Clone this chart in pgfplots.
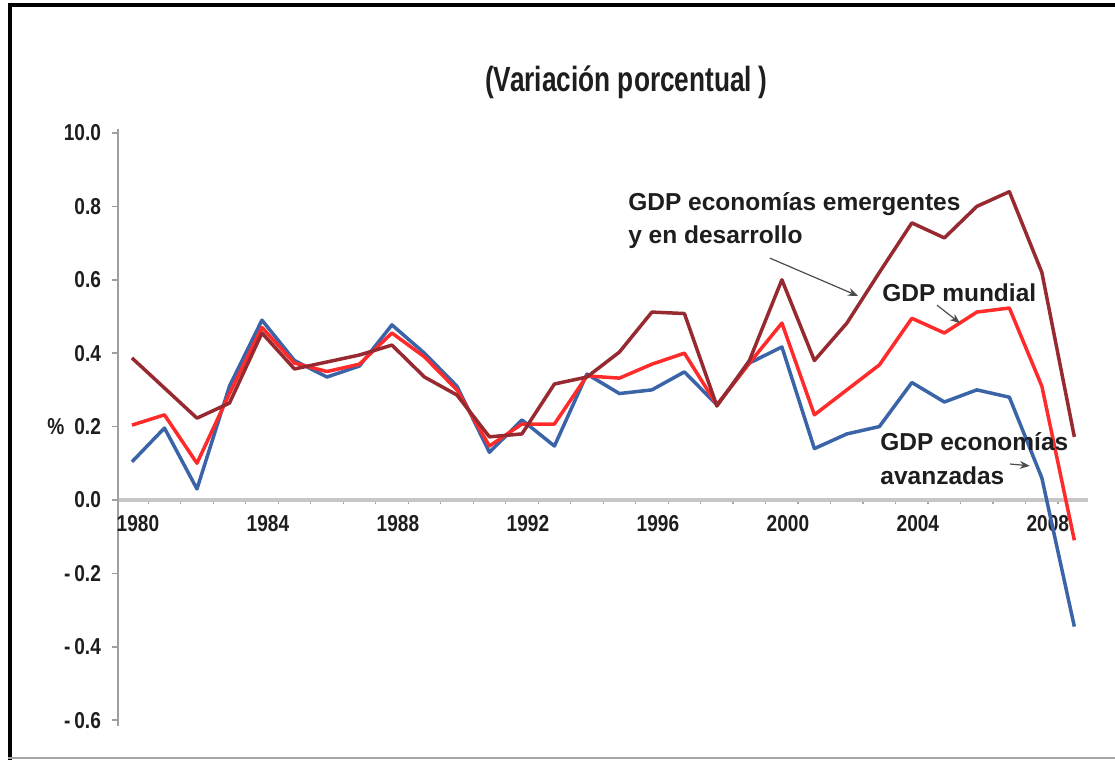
\documentclass[border=0pt]{standalone}
\usepackage{pgfplots}
\pgfplotsset{compat=1.18}
\usepackage{pgfplotstable}
\usepackage{fontspec}
\setmainfont{Liberation Sans}
\newfontfamily\narrow[FakeStretch=0.83]{Liberation Sans}
\newfontfamily\narrowT[FakeStretch=0.75]{Liberation Sans}
\usetikzlibrary{arrows.meta}
\definecolor{cblue}{RGB}{59,100,168}
\definecolor{cred}{RGB}{255,42,42}
\definecolor{cbrown}{RGB}{150,42,48}
\definecolor{ctext}{RGB}{30,30,30}
\pgfplotstableread{
year adv world emerg
1980 0.104 0.204 0.387
1981 0.196 0.232 0.305
1982 0.030 0.100 0.223
1983 0.310 0.290 0.264
1984 0.490 0.470 0.455
1985 0.380 0.373 0.357
1986 0.335 0.350 0.376
1987 0.365 0.370 0.395
1988 0.477 0.455 0.422
1989 0.400 0.390 0.335
1990 0.310 0.300 0.286
1991 0.130 0.147 0.172
1992 0.218 0.207 0.180
1993 0.147 0.207 0.316
1994 0.343 0.338 0.335
1995 0.290 0.332 0.403
1996 0.300 0.370 0.512
1997 0.349 0.400 0.508
1998 0.259 0.259 0.256
1999 0.373 0.373 0.380
2000 0.417 0.482 0.600
2001 0.140 0.232 0.380
2002 0.180 0.300 0.482
2003 0.200 0.368 0.620
2004 0.320 0.495 0.755
2005 0.267 0.455 0.714
2006 0.300 0.512 0.800
2007 0.280 0.523 0.840
2008 0.060 0.310 0.620
2009 -0.345 -0.110 0.172
}\gdp
\begin{document}
\begin{tikzpicture}
\useasboundingbox (0pt,0pt) rectangle (557.5pt,380pt);
% frame
\draw[black, line width=2pt] (4pt,377.5pt) -- (557.5pt,377.5pt);
\draw[black, line width=2pt] (5pt,378.5pt) -- (5pt,0pt);
\draw[gray!70, line width=1pt] (4pt,0.8pt) -- (557.5pt,0.8pt);
% title
\node[font=\narrowT\bfseries\fontsize{17.5}{20}\selectfont, text=ctext] at (313pt,339pt) {(Variación porcentual\,)};
\begin{axis}[
  at={(59pt,17.15pt)}, anchor=south west,
  scale only axis, width=485pt, height=298.2pt,
  xmin=1979.57, xmax=2009.42, ymin=-0.615, ymax=1.01,
  axis x line=middle, axis y line=left,
  axis line style={-},
  x axis line style={gray!45, line width=1.6pt},
  y axis line style={gray!75, line width=0.9pt},
  hide obscured x ticks=false, hide obscured y ticks=false,
  clip=false,
  xtick={1980,1984,1988,1992,1996,2000,2004,2008},
  xticklabels={1980,1984,1988,1992,1996,2000,2004,2008},
  minor xtick={1980.5,1981.5,...,2008.5},
  ytick={-0.6,-0.4,-0.2,0,0.2,0.4,0.6,0.8,1.0},
  yticklabels={-\,0.6,-\,0.4,-\,0.2,0.0,\%\hspace{5pt}0.2,0.4,0.6,0.8,10.0},
  tick align=outside,
  major tick length=3pt, minor tick length=2.2pt,
  every major x tick/.style={draw=none},
  every minor x tick/.style={gray!70, line width=0.6pt},
  every major y tick/.style={gray!75, line width=0.8pt},
  tick label style={font=\narrow\bfseries\fontsize{11.5}{13}\selectfont, text=ctext},
  xticklabel style={xshift=3pt, yshift=-1pt},
  yticklabel style={xshift=-2pt},
]
\addplot[cblue, line width=1.75pt, line join=round, no marks] table[x=year, y=adv] {\gdp};
\addplot[cred, line width=1.75pt, line join=round, no marks] table[x=year, y=world] {\gdp};
\addplot[cbrown, line width=1.75pt, line join=round, no marks] table[x=year, y=emerg] {\gdp};
\begin{scope}[every node/.style={font=\bfseries\fontsize{12.25}{14}\selectfont, text=ctext, inner sep=0pt}]
\node[anchor=base west] at (axis cs:1995.26,0.790) {GDP economías emergentes};
\node[anchor=base west] at (axis cs:1995.26,0.700) {y en desarrollo};
\node[anchor=base west] at (axis cs:2003.08,0.540) {GDP mundial};
\node[anchor=base west] at (axis cs:2003.02,0.136) {GDP economías};
\node[anchor=base west] at (axis cs:2003.02,0.041) {avanzadas};
\end{scope}
\draw[gray!60!black, line width=0.6pt, -{Stealth[length=5pt,width=4pt]}] (axis cs:1999.63,0.659) -- (axis cs:2002.34,0.556);
\draw[gray!60!black, line width=0.6pt, -{Stealth[length=5pt,width=4pt]}] (axis cs:2004.77,0.531) -- (axis cs:2005.48,0.482);
\draw[gray!60!black, line width=0.6pt, -{Stealth[length=5pt,width=4pt]}] (axis cs:2007.02,0.098) -- (axis cs:2007.63,0.093);
\end{axis}
\end{tikzpicture}
\end{document}
